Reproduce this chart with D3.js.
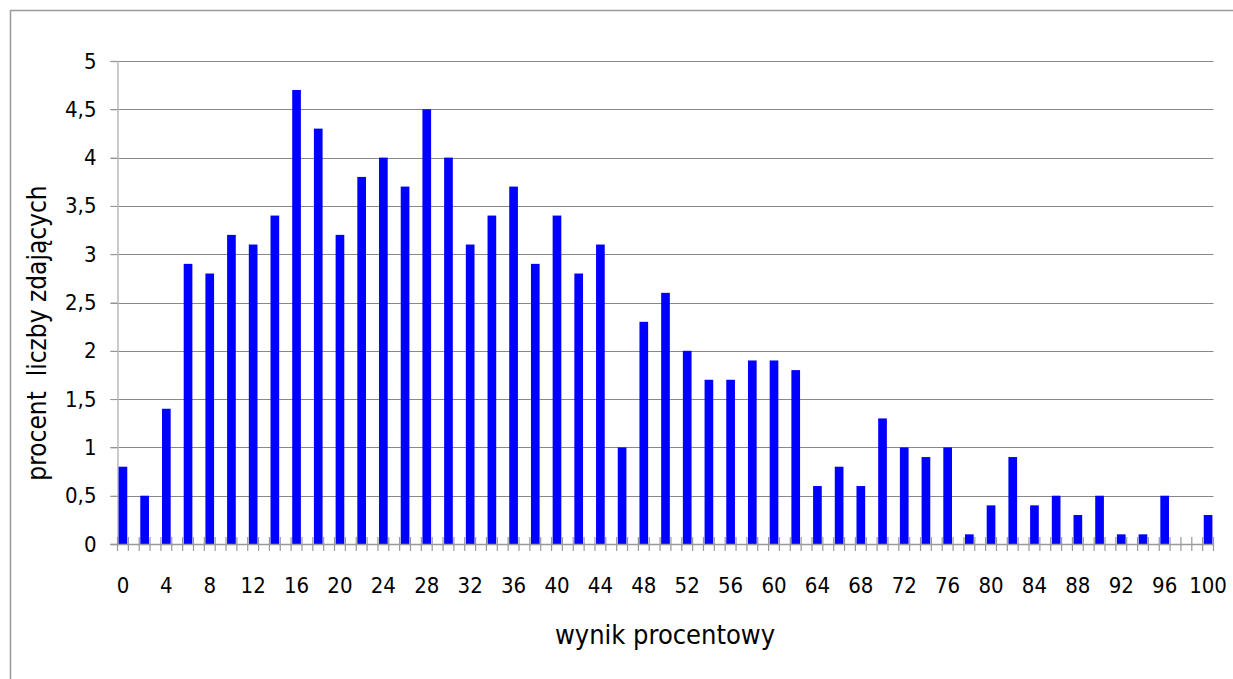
<!DOCTYPE html>
<html>
<head>
<meta charset="utf-8">
<script src="https://cdn.jsdelivr.net/npm/d3@7"></script>
<style>
  body { margin: 0; background: #fff; }
  text { font-family: "DejaVu Sans Condensed", "DejaVu Sans", sans-serif; fill: #000; }
</style>
</head>
<body>
<svg class="chart" width="1233" height="679"></svg>
<script>
// DATA - wynik procentowy (0..100), only even scores carry a bar
const scores = d3.range(0, 101);
const evenScores = [0,2,4,6,8,10,12,14,16,18,20,22,24,26,28,30,32,34,36,38,40,42,44,46,48,50,
  52,54,56,58,60,62,64,66,68,70,72,74,76,78,80,82,84,86,88,90,92,94,96,98,100];
const percents = [0.8,0.5,1.4,2.9,2.8,3.2,3.1,3.4,4.7,4.3,3.2,3.8,4.0,3.7,4.5,4.0,3.1,3.4,3.7,2.9,3.4,2.8,3.1,1.0,2.3,2.6,
  2.0,1.7,1.7,1.9,1.9,1.8,0.6,0.8,0.6,1.3,1.0,0.9,1.0,0.1,0.4,0.9,0.4,0.5,0.3,0.5,0.1,0.1,0.5,0,0.3];
const yTicks = [0,0.5,1,1.5,2,2.5,3,3.5,4,4.5,5];
const xTickLabels = d3.range(0, 101, 4);

const bars = evenScores.map((s, i) => ({score: s, value: percents[i]}));

const svg = d3.select("svg.chart");

// outer frame (runs off the right and bottom edge like the screenshot)
svg.append("path")
  .attr("d", "M10.5,700 V10.5 H1240")
  .attr("fill", "none")
  .attr("stroke", "#999")
  .attr("stroke-width", 1.5);

const plotLeft = 117.5, plotRight = 1213.5, plotTop = 61, plotBottom = 544;

const x = d3.scaleBand()
  .domain(scores)
  .range([plotLeft, plotRight])
  .paddingInner(0.2)
  .paddingOuter(0.1);

const y = d3.scaleLinear()
  .domain([0, 5])
  .range([plotBottom, plotTop]);

// gridlines
svg.append("g")
  .selectAll("line")
  .data(yTicks.filter(d => d > 0))
  .join("line")
  .attr("x1", plotLeft - 7)
  .attr("x2", plotRight)
  .attr("y1", d => Math.round(y(d)) + 0.5)
  .attr("y2", d => Math.round(y(d)) + 0.5)
  .attr("stroke", "#888")
  .attr("stroke-width", 1);

// y axis
const yAxis = svg.append("g")
  .attr("transform", `translate(${plotLeft},0)`)
  .call(d3.axisLeft(y).tickValues(yTicks).tickSize(7).tickPadding(14)
    .tickFormat(d => String(d).replace(".", ",")));
yAxis.select(".domain").attr("stroke", "#bbb").attr("stroke-width", 1.5);
yAxis.selectAll(".tick line").attr("stroke", "#999");
yAxis.selectAll(".tick text")
  .style("font-size", "22px")
  .style("font-family", "DejaVu Sans Condensed, DejaVu Sans, sans-serif")
  .attr("fill", "#000");

// bars
svg.append("g")
  .selectAll("rect")
  .data(bars)
  .join("rect")
  .attr("x", d => x(d.score))
  .attr("width", x.bandwidth())
  .attr("y", d => y(d.value))
  .attr("height", d => y(0) - y(d.value))
  .attr("fill", "#0000ff");

// x axis line and cross ticks at category boundaries
const step = x.step();
const boundaries = d3.range(0, scores.length + 1).map(i => plotLeft + i * step);
svg.append("line")
  .attr("x1", plotLeft - 7).attr("x2", plotRight)
  .attr("y1", plotBottom + 0.5).attr("y2", plotBottom + 0.5)
  .attr("stroke", "#999").attr("stroke-width", 1.5);
svg.append("g")
  .selectAll("line")
  .data(boundaries)
  .join("line")
  .attr("x1", d => d).attr("x2", d => d)
  .attr("y1", plotBottom - 7).attr("y2", plotBottom + 7)
  .attr("stroke", "#999").attr("stroke-width", 1.2);

// x tick labels
svg.append("g")
  .selectAll("text")
  .data(xTickLabels)
  .join("text")
  .attr("x", d => x(d) + x.bandwidth() / 2)
  .attr("y", 593)
  .attr("text-anchor", "middle")
  .style("font-size", "22px")
  .text(d => d);

// axis titles
svg.append("text")
  .attr("x", 665)
  .attr("y", 644)
  .attr("text-anchor", "middle")
  .style("font-size", "27px")
  .text("wynik procentowy");

svg.append("text")
  .attr("transform", "translate(46,333) rotate(-90)")
  .attr("text-anchor", "middle")
  .style("font-size", "26px")
  .style("white-space", "pre")
  .text("procent  liczby zdających");
</script>
</body>
</html>
